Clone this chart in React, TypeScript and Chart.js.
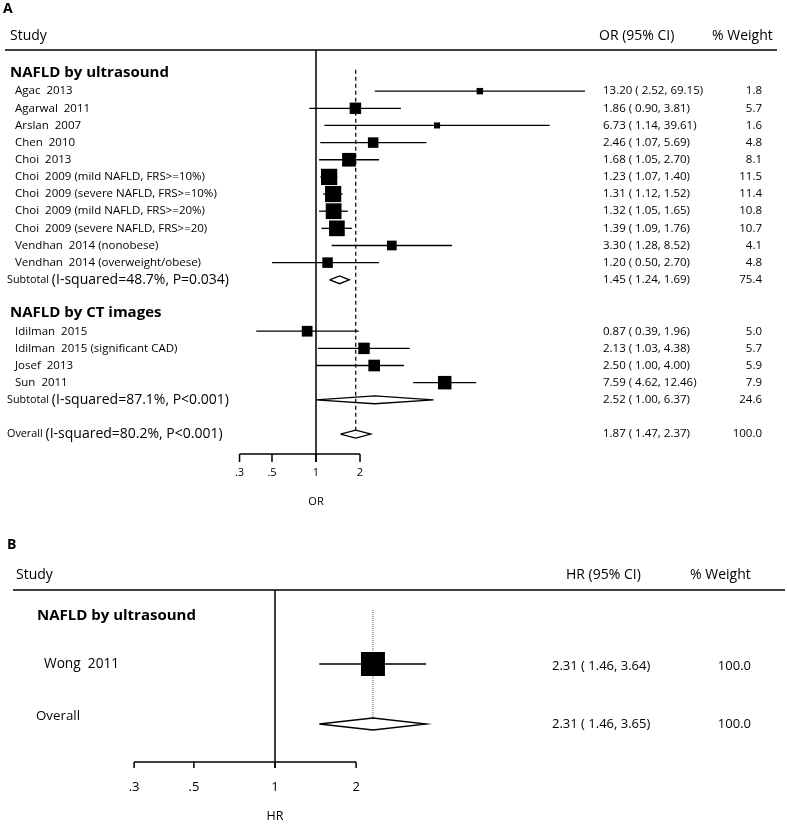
import React, { useEffect, useRef } from "react";
import { Chart, registerables } from "chart.js";

Chart.register(...registerables);

const FONT = '"Open Sans", "DejaVu Sans", sans-serif';

// ===== Panel A: odds ratios =====
const studiesA = [
  "Agac  2013",
  "Agarwal  2011",
  "Arslan  2007",
  "Chen  2010",
  "Choi  2013",
  "Choi  2009 (mild NAFLD, FRS>=10%)",
  "Choi  2009 (severe NAFLD, FRS>=10%)",
  "Choi  2009 (mild NAFLD, FRS>=20%)",
  "Choi  2009 (severe NAFLD, FRS>=20)",
  "Vendhan  2014 (nonobese)",
  "Vendhan  2014 (overweight/obese)",
  "Idilman  2015",
  "Idilman  2015 (significant CAD)",
  "Josef  2013",
  "Sun  2011",
];
const groupOfStudyA = [0, 0, 0, 0, 0, 0, 0, 0, 0, 0, 0, 1, 1, 1, 1];
const orA = [13.2, 1.86, 6.73, 2.46, 1.68, 1.23, 1.31, 1.32, 1.39, 3.3, 1.2, 0.87, 2.13, 2.5, 7.59];
const lowerA = [2.52, 0.9, 1.14, 1.07, 1.05, 1.07, 1.12, 1.05, 1.09, 1.28, 0.5, 0.39, 1.03, 1.0, 4.62];
const upperA = [69.15, 3.81, 39.61, 5.69, 2.7, 1.4, 1.52, 1.65, 1.76, 8.52, 2.7, 1.96, 4.38, 4.0, 12.46];
const weightA = [1.8, 5.7, 1.6, 4.8, 8.1, 11.5, 11.4, 10.8, 10.7, 4.1, 4.8, 5.0, 5.7, 5.9, 7.9];
const groupsA = ["NAFLD by ultrasound", "NAFLD by CT images"];
const subHetA = ["(I-squared=48.7%, P=0.034)", "(I-squared=87.1%, P<0.001)"];
const subOrA = [1.45, 2.52];
const subLowerA = [1.24, 1.0];
const subUpperA = [1.69, 6.37];
const subWeightA = [75.4, 24.6];
const overallOrA = 1.87;
const overallLowerA = 1.47;
const overallUpperA = 2.37;
const overallWeightA = 100.0;
const overallHetA = "(I-squared=80.2%, P<0.001)";

// ===== Panel B: hazard ratios =====
const groupsB = ["NAFLD by ultrasound"];
const studiesB = ["Wong  2011"];
const hrB = [2.31];
const lowerB = [1.46];
const upperB = [3.64];
const weightB = [100.0];
const overallHrB = 2.31;
const overallLowerB = 1.46;
const overallUpperB = 3.65;
const overallWeightB = 100.0;

const axisTicks = [0.3, 0.5, 1, 2];
const axisTickLabels = [".3", ".5", "1", "2"];

const W = 787;
const HA = 525;
const HB = 299;

const pad5 = (v: number) => {
  const s = v.toFixed(2);
  return s.length < 5 ? " " + s : s;
};
const ciText = (e: number, l: number, u: number) => `${e.toFixed(2)} (${pad5(l)}, ${u.toFixed(2)})`;

function lineDs(points: any[], extra: any = {}) {
  return {
    type: "line",
    data: points,
    borderColor: "#000",
    borderWidth: 1.3,
    pointRadius: 0,
    fill: false,
    tension: 0,
    clip: false,
    order: 2,
    ...extra,
  };
}
function diamond(est: number, lo: number, hi: number, y: number, h: number) {
  return [
    { x: lo, y },
    { x: est, y: y - h },
    { x: hi, y },
    { x: est, y: y + h },
    { x: lo, y },
  ];
}

function txt(ctx: CanvasRenderingContext2D, s: string, x: number, y: number, font: string, align: CanvasTextAlign = "left") {
  ctx.font = font;
  ctx.textAlign = align;
  ctx.fillText(s, x, y);
}

type Row = { kind: "head" | "study" | "sub" | "overall"; y: number; i?: number; g?: number };

function buildRowsA(): Row[] {
  const rows: Row[] = [];
  let k = 0;
  groupsA.forEach((_, g) => {
    rows.push({ kind: "head", y: k++, g });
    studiesA.forEach((__, i) => {
      if (groupOfStudyA[i] === g) rows.push({ kind: "study", y: k++, i });
    });
    rows.push({ kind: "sub", y: k++, g });
    k++;
  });
  rows.push({ kind: "overall", y: k });
  return rows;
}

function drawAxis(ctx: CanvasRenderingContext2D, xs: any, bottom: number, tickLen: number, labelY: number, titleY: number, title: string, tickFont: string, titleFont: string) {
  const x0 = xs.getPixelForValue(axisTicks[0]);
  const x1 = xs.getPixelForValue(axisTicks[axisTicks.length - 1]);
  ctx.lineWidth = 1.5;
  ctx.beginPath();
  ctx.moveTo(x0, bottom);
  ctx.lineTo(x1, bottom);
  axisTicks.forEach((t) => {
    const px = xs.getPixelForValue(t);
    ctx.moveTo(px, bottom);
    ctx.lineTo(px, bottom + tickLen);
  });
  ctx.stroke();
  axisTicks.forEach((t, i) => txt(ctx, axisTickLabels[i], xs.getPixelForValue(t), labelY, tickFont, "center"));
  txt(ctx, title, xs.getPixelForValue(1), titleY, titleFont, "center");
}

function configA(): any {
  const rows = buildRowsA();
  const studyRows = rows.filter((r) => r.kind === "study");
  const subRows = rows.filter((r) => r.kind === "sub");
  const overallRow = rows.find((r) => r.kind === "overall")!;
  const H = 0.23;

  const datasets: any[] = [];
  datasets.push({
    type: "scatter",
    data: studyRows.map((r) => ({ x: orA[r.i!], y: r.y })),
    pointStyle: "rect",
    pointRadius: studyRows.map((r) => (4.8 * Math.sqrt(weightA[r.i!])) / Math.SQRT2),
    pointBackgroundColor: "#000",
    pointBorderColor: "#000",
    pointBorderWidth: 0,
    clip: false,
    order: 0,
  });
  studyRows.forEach((r) => {
    datasets.push(lineDs([{ x: lowerA[r.i!], y: r.y }, { x: upperA[r.i!], y: r.y }], { order: 1 }));
  });
  subRows.forEach((r) => {
    datasets.push(lineDs(diamond(subOrA[r.g!], subLowerA[r.g!], subUpperA[r.g!], r.y, H)));
  });
  datasets.push(lineDs(diamond(overallOrA, overallLowerA, overallUpperA, overallRow.y, H)));
  datasets.push(
    lineDs([{ x: overallOrA, y: -0.25 }, { x: overallOrA, y: overallRow.y }], { borderDash: [4, 3], borderWidth: 1.2, order: 3 })
  );

  const plugin = {
    id: "forestA",
    beforeDatasetsDraw(chart: any) {
      const { ctx } = chart;
      const { top, bottom } = chart.chartArea;
      const xs = chart.scales.x;
      const ys = chart.scales.y;
      ctx.save();
      ctx.fillStyle = "#000";
      ctx.strokeStyle = "#000";
      ctx.textBaseline = "middle";
      txt(ctx, "A", 3, 9, `bold 14px ${FONT}`);
      const hf = `14px ${FONT}`;
      txt(ctx, "Study", 10, top - 14, hf);
      txt(ctx, "OR (95% CI)", 599, top - 14, hf);
      txt(ctx, "% Weight", 712, top - 14, hf);
      ctx.lineWidth = 1.5;
      ctx.beginPath();
      ctx.moveTo(5, top);
      ctx.lineTo(777, top);
      const x1 = xs.getPixelForValue(1);
      ctx.moveTo(x1, top);
      ctx.lineTo(x1, bottom + 8);
      ctx.stroke();
      drawAxis(ctx, xs, bottom, 8, bottom + 19, bottom + 48, "OR", `11px ${FONT}`, `11px ${FONT}`);

      const sf = `11.5px ${FONT}`;
      rows.forEach((r) => {
        const y = ys.getPixelForValue(r.y);
        if (r.kind === "head") {
          txt(ctx, groupsA[r.g!], 10, y - 1, `bold 15px ${FONT}`);
        } else if (r.kind === "study") {
          const i = r.i!;
          txt(ctx, studiesA[i], 15, y, sf);
          txt(ctx, ciText(orA[i], lowerA[i], upperA[i]), 603, y, sf);
          txt(ctx, weightA[i].toFixed(1), 762, y, sf, "right");
        } else {
          const isSub = r.kind === "sub";
          const lab = isSub ? "Subtotal" : "Overall";
          const het = isSub ? subHetA[r.g!] : overallHetA;
          const f1 = `10.8px ${FONT}`;
          txt(ctx, lab, 7, y, f1);
          ctx.font = f1;
          const w = ctx.measureText(lab + " ").width;
          txt(ctx, het, 7 + w, y, `14px ${FONT}`);
          const e = isSub ? subOrA[r.g!] : overallOrA;
          const l = isSub ? subLowerA[r.g!] : overallLowerA;
          const u = isSub ? subUpperA[r.g!] : overallUpperA;
          const wt = isSub ? subWeightA[r.g!] : overallWeightA;
          txt(ctx, ciText(e, l, u), 603, y, sf);
          txt(ctx, wt.toFixed(1), 762, y, sf, "right");
        }
      });
      ctx.restore();
    },
  };

  return {
    type: "scatter",
    data: { datasets },
    options: {
      responsive: false,
      maintainAspectRatio: false,
      animation: false,
      events: [],
      layout: { padding: { left: 227.97, right: 185.27, top: 50, bottom: 71 } },
      plugins: { legend: { display: false }, tooltip: { enabled: false } },
      scales: {
        x: { type: "logarithmic", min: 0.25, max: 90, display: false, bounds: "data" },
        y: { type: "linear", min: -1.4, max: 22.16, reverse: true, display: false, bounds: "data" },
      },
    },
    plugins: [plugin],
  };
}

function configB(): any {
  const headY = 0;
  const studyY = studiesB.map((_, i) => 1 + i);
  const overallY = studiesB.length + 1.25;
  const H = 0.125;

  const datasets: any[] = [];
  datasets.push({
    type: "scatter",
    data: studiesB.map((_, i) => ({ x: hrB[i], y: studyY[i] })),
    pointStyle: "rect",
    pointRadius: weightB.map((w) => (2.4 * Math.sqrt(w)) / Math.SQRT2),
    pointBackgroundColor: "#000",
    pointBorderColor: "#000",
    pointBorderWidth: 0,
    clip: false,
    order: 0,
  });
  studiesB.forEach((_, i) => {
    datasets.push(lineDs([{ x: lowerB[i], y: studyY[i] }, { x: upperB[i], y: studyY[i] }], { order: 1 }));
  });
  datasets.push(lineDs(diamond(overallHrB, overallLowerB, overallUpperB, overallY, H)));
  datasets.push(
    lineDs([{ x: overallHrB, y: -0.125 }, { x: overallHrB, y: overallY - H }], {
      borderDash: [1, 1],
      borderWidth: 1,
      borderColor: "#555",
      order: 3,
    })
  );

  const plugin = {
    id: "forestB",
    beforeDatasetsDraw(chart: any) {
      const { ctx } = chart;
      const { top, bottom } = chart.chartArea;
      const xs = chart.scales.x;
      const ys = chart.scales.y;
      ctx.save();
      ctx.fillStyle = "#000";
      ctx.strokeStyle = "#000";
      ctx.textBaseline = "middle";
      txt(ctx, "B", 7, 20, `bold 14px ${FONT}`);
      const hf = `14px ${FONT}`;
      txt(ctx, "Study", 16, top - 15, hf);
      txt(ctx, "HR (95% CI)", 566, top - 15, hf);
      txt(ctx, "% Weight", 690, top - 15, hf);
      ctx.lineWidth = 1.5;
      ctx.beginPath();
      ctx.moveTo(13, top);
      ctx.lineTo(785, top);
      const x1 = xs.getPixelForValue(1);
      ctx.moveTo(x1, top);
      ctx.lineTo(x1, bottom + 6);
      ctx.stroke();
      drawAxis(ctx, xs, bottom, 6, bottom + 25, bottom + 54, "HR", `13px ${FONT}`, `12.5px ${FONT}`);

      txt(ctx, groupsB[0], 37, ys.getPixelForValue(headY), `bold 15px ${FONT}`);
      const sf = `13.7px ${FONT}`;
      const vf = `13px ${FONT}`;
      studiesB.forEach((s, i) => {
        const y = ys.getPixelForValue(studyY[i]);
        txt(ctx, s, 44, y, sf);
        txt(ctx, ciText(hrB[i], lowerB[i], upperB[i]), 552, y + 2, vf);
        txt(ctx, weightB[i].toFixed(1), 751, y + 2, vf, "right");
      });
      const yo = ys.getPixelForValue(overallY);
      txt(ctx, "Overall", 36, yo - 8, `13.3px ${FONT}`);
      txt(ctx, ciText(overallHrB, overallLowerB, overallUpperB), 552, yo, vf);
      txt(ctx, overallWeightB.toFixed(1), 751, yo, vf, "right");
      ctx.restore();
    },
  };

  return {
    type: "scatter",
    data: { datasets },
    options: {
      responsive: false,
      maintainAspectRatio: false,
      animation: false,
      events: [],
      layout: { padding: { left: 112.8, right: 323.7, top: 65, bottom: 62 } },
      plugins: { legend: { display: false }, tooltip: { enabled: false } },
      scales: {
        x: { type: "logarithmic", min: 0.25, max: 5, display: false, bounds: "data" },
        y: { type: "linear", min: -0.542, max: 3.042, reverse: true, display: false, bounds: "data" },
      },
    },
    plugins: [plugin],
  };
}

export default function App() {
  const refA = useRef<HTMLCanvasElement | null>(null);
  const refB = useRef<HTMLCanvasElement | null>(null);

  useEffect(() => {
    const a = new Chart(refA.current!, configA());
    const b = new Chart(refB.current!, configB());
    return () => {
      a.destroy();
      b.destroy();
    };
  }, []);

  return (
    <div style={{ position: "absolute", left: 0, top: 0, width: W, height: HA + HB, background: "#fff" }}>
      <canvas ref={refA} width={W} height={HA} style={{ position: "absolute", left: 0, top: 0, display: "block" }} />
      <canvas ref={refB} width={W} height={HB} style={{ position: "absolute", left: 0, top: HA, display: "block" }} />
    </div>
  );
}
